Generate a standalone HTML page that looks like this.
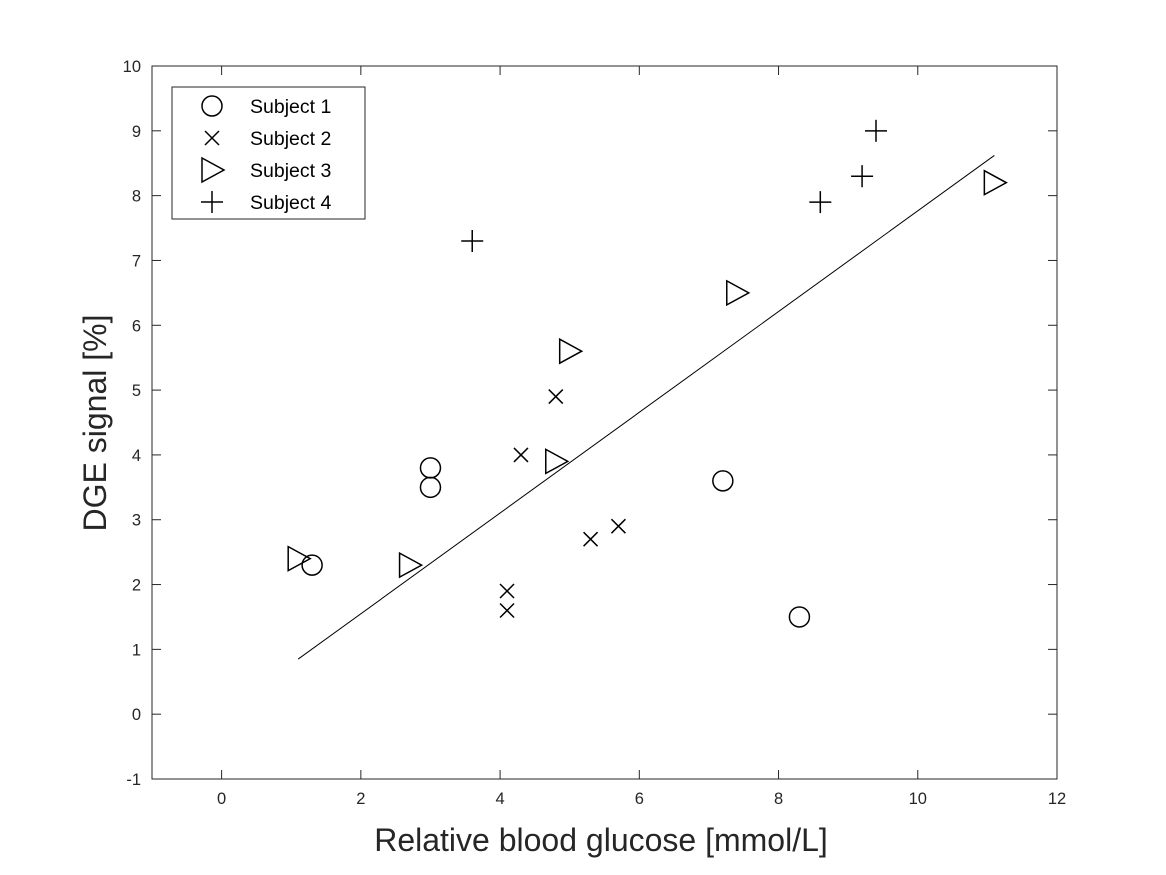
<!DOCTYPE html>
<html><head><meta charset="utf-8"><style>
body{margin:0;background:#fff}
svg{display:block;font-family:"Liberation Sans",Arial,sans-serif}
</style></head><body>
<svg id="chart" width="1166" height="875" viewBox="0 0 1166 875">
<rect width="1166" height="875" fill="#fff"/>
<g id="axes"></g>
<g id="marks"></g>
<text x="601" y="851" font-size="32" text-anchor="middle" fill="#262626">Relative blood glucose [mmol/L]</text>
<text transform="translate(106,423) rotate(-90)" font-size="32" text-anchor="middle" fill="#262626">DGE signal [%]</text>
<g>
<rect x="172" y="87" width="193" height="132" fill="#fff" stroke="#262626" stroke-width="1"/>
<g id="legend-items"></g>
</g>
</svg>
<script>
const xTicks=[0,2,4,6,8,10,12];
const yTicks=[-1,0,1,2,3,4,5,6,7,8,9,10];
const s1x=[1.3,3.0,3.0,7.2,8.3];
const s1y=[2.3,3.8,3.5,3.6,1.5];
const s2x=[4.1,4.1,4.3,4.8,5.3,5.7];
const s2y=[1.9,1.6,4.0,4.9,2.7,2.9];
const s3x=[1.1,2.7,4.8,5.0,7.4,11.1];
const s3y=[2.4,2.3,3.9,5.6,6.5,8.2];
const s4x=[3.6,8.6,9.2,9.4];
const s4y=[7.3,7.9,8.3,9.0];
const fitX=[1.1,11.1];
const fitY=[0.85,8.62];
const seriesNames=["Subject 1","Subject 2","Subject 3","Subject 4"];

const L=152,R=1057,T=66,B=779,xmin=-1,xmax=12,ymin=-1,ymax=10;
const sx=v=>L+(v-xmin)/(xmax-xmin)*(R-L);
const sy=v=>B-(v-ymin)/(ymax-ymin)*(B-T);
const NS="http://www.w3.org/2000/svg";
function mk(tag,attrs,parent){const e=document.createElementNS(NS,tag);for(const k in attrs)e.setAttribute(k,attrs[k]);parent.appendChild(e);return e;}
const axes=document.getElementById('axes'),marks=document.getElementById('marks');
const box=mk('rect',{x:L,y:T,width:R-L,height:B-T,fill:'none',stroke:'#262626','stroke-width':1},axes);


xTicks.forEach(t=>{const x=sx(t);
mk('line',{x1:x,x2:x,y1:B,y2:B-9,stroke:'#262626'},axes);
mk('line',{x1:x,x2:x,y1:T,y2:T+9,stroke:'#262626'},axes);
const tx=mk('text',{x:x,y:B+25,'font-size':16.5,'text-anchor':'middle',fill:'#262626'},axes);tx.textContent=t;

});
yTicks.forEach(t=>{const y=sy(t);
mk('line',{x1:L,x2:L+9,y1:y,y2:y,stroke:'#262626'},axes);
mk('line',{x1:R,x2:R-9,y1:y,y2:y,stroke:'#262626'},axes);
const tx=mk('text',{x:L-11,y:y+6,'font-size':16.5,'text-anchor':'end',fill:'#262626'},axes);tx.textContent=t;

});
function marker(type,x,y,p){const g=mk('g',{fill:'none',stroke:'#000','stroke-width':1.5},p);
if(type===0)mk('circle',{cx:x,cy:y,r:10},g);
else if(type===1){mk('line',{x1:x-7,y1:y-7,x2:x+7,y2:y+7},g);mk('line',{x1:x-7,y1:y+7,x2:x+7,y2:y-7},g);}
else if(type===2)mk('polygon',{points:`${x-10},${y-12} ${x+12},${y} ${x-10},${y+12}`},g);
else {mk('line',{x1:x-11,y1:y,x2:x+11,y2:y},g);mk('line',{x1:x,y1:y-11,x2:x,y2:y+11},g);}
return g;}
const fit=mk('line',{x1:sx(fitX[0]),y1:sy(fitY[0]),x2:sx(fitX[1]),y2:sy(fitY[1]),stroke:'#000','stroke-width':1},marks);


[[s1x,s1y],[s2x,s2y],[s3x,s3y],[s4x,s4y]].forEach((s,i)=>{s[0].forEach((v,j)=>{
const g=marker(i,sx(v),sy(s[1][j]),marks);

});});
const li=document.getElementById('legend-items');
seriesNames.forEach((n,i)=>{const y=106+i*32;
const g=marker(i,212,y,li);


const t=mk('text',{x:250,y:y+7,'font-size':19.5,fill:'#000'},li);t.textContent=n;

});
</script>
</body></html>
